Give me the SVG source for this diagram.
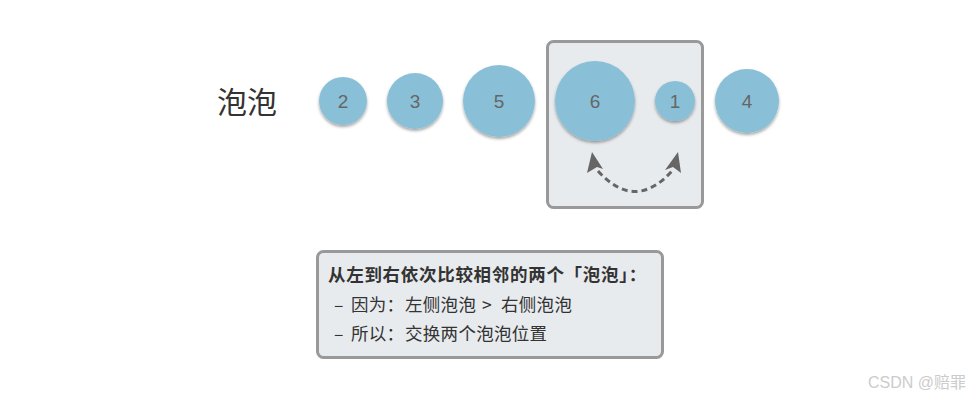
<svg xmlns="http://www.w3.org/2000/svg" width="980" height="400" viewBox="0 0 980 400">
<defs>
<filter id="sh" x="-30%" y="-30%" width="160%" height="170%">
<feDropShadow dx="0" dy="2" stdDeviation="1.5" flood-color="#000" flood-opacity="0.35"/>
</filter>
</defs>
<style>
.b{fill:#89c0d7;filter:url(#sh)}
.n{font-family:"Helvetica Neue","Liberation Sans",Arial,sans-serif;font-size:19px;fill:#666;text-anchor:middle}
.t{font-family:"Noto Sans CJK SC","Noto Sans",sans-serif;font-size:17.5px;fill:#333;letter-spacing:0.3px}
.ah{fill:#666}
</style>
<rect width="980" height="400" fill="#fff"/>
<g id="swapbox"><rect x="547.5" y="41.5" width="155" height="166" rx="6" fill="#e8ebee" stroke="#999" stroke-width="3"/></g>
<text x="217" y="113" font-family="Noto Sans CJK SC,Noto Sans,sans-serif" font-size="30" fill="#333">泡泡</text>
<g id="b2"><circle class="b" cx="343" cy="101" r="24"/><text class="n" x="343" y="108">2</text></g>
<g id="b3"><circle class="b" cx="415" cy="101" r="28"/><text class="n" x="415" y="108">3</text></g>
<g id="b5"><circle class="b" cx="499" cy="101" r="36"/><text class="n" x="499" y="108">5</text></g>
<g id="b6"><circle class="b" cx="595" cy="101" r="40"/><text class="n" x="595" y="108">6</text></g>
<g id="b1"><circle class="b" cx="675" cy="101" r="20"/><text class="n" x="675" y="108">1</text></g>
<g id="b4"><circle class="b" cx="747" cy="101" r="32"/><text class="n" x="747" y="108">4</text></g>
<g id="connectors">
<path d="M598,171 Q635,212 672,171" fill="none" stroke="#666" stroke-width="3" stroke-dasharray="6,4"/>
<path class="ah" d="M592,152 L603,169 L597,167 L587,173 Z"/>
<path class="ah" d="M678,152 L681,173 L673,167 L665,170 Z"/>
</g>
<g id="note">
<rect x="317.5" y="251.5" width="345" height="106" rx="6" fill="#e8ebee" stroke="#999" stroke-width="3"/>
<text class="t" x="328" y="281" font-weight="600" style="letter-spacing:0.7px">从左到右依次比较相邻的两个「泡泡」：</text>
<text class="t" y="311"><tspan x="334">–</tspan><tspan x="351">因为：</tspan><tspan x="405">左侧泡泡</tspan><tspan x="482">&gt;</tspan><tspan x="501">右侧泡泡</tspan></text>
<text class="t" y="340"><tspan x="334">–</tspan><tspan x="351">所以：</tspan><tspan x="405">交换两个泡泡位置</tspan></text>
</g>
<text x="868" y="388" font-family="Liberation Sans,Noto Sans CJK SC,sans-serif" font-size="16" fill="#ccc">CSDN @赔罪</text>
</svg>
